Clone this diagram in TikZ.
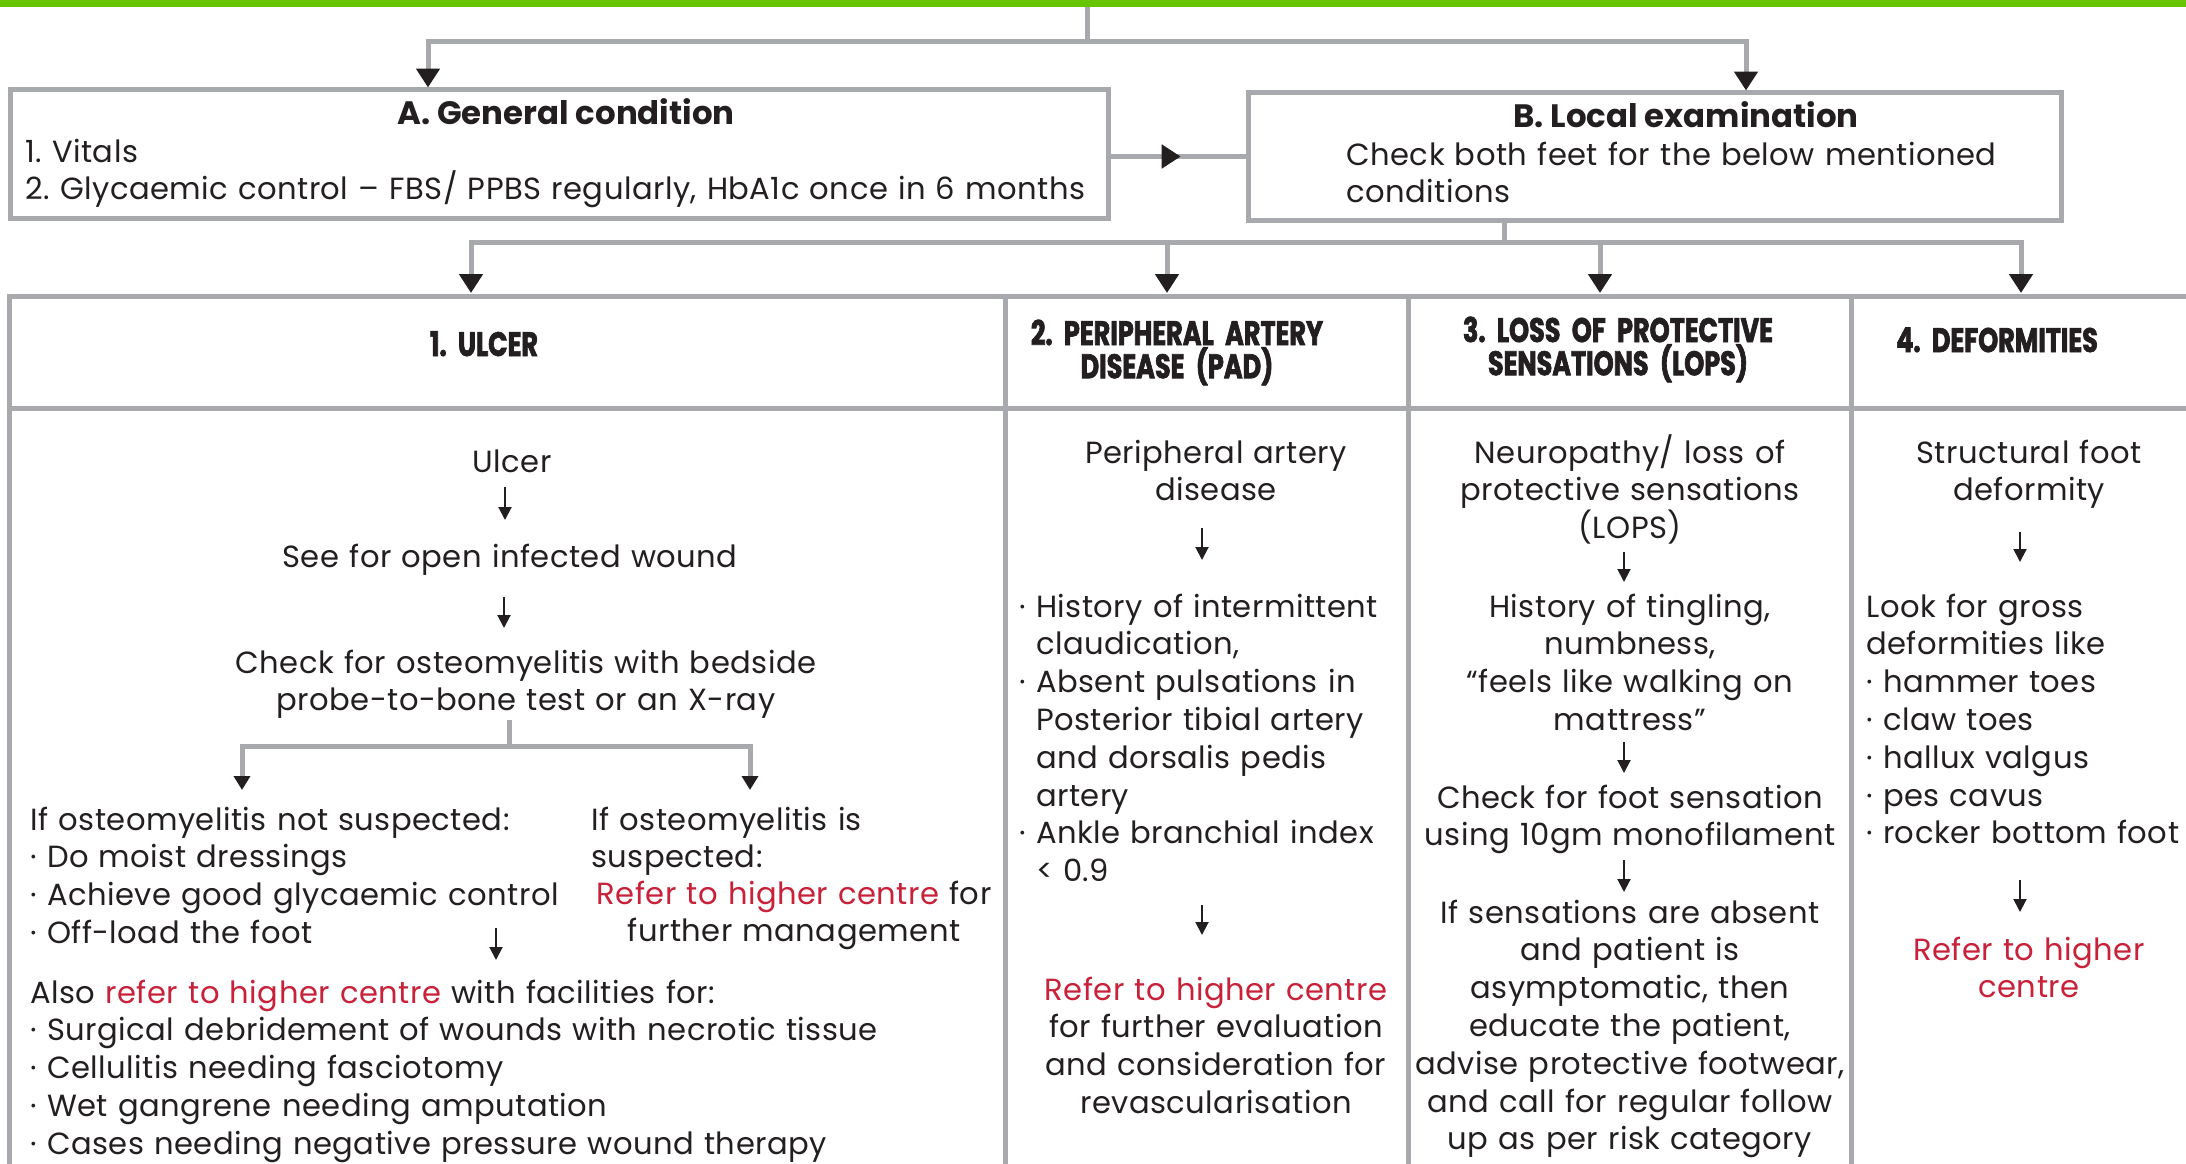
\documentclass[tikz,border=0pt]{standalone}
\usepackage{fontspec}
\setmainfont{Poppins}[Numbers=Proportional,LetterSpace=1.5]
\newfontfamily\ttlfont{Poppins}[Numbers=Proportional]
\newfontfamily\hdfont{Poppins}[Numbers=Proportional,FakeStretch=0.75,BoldFeatures={FakeBold=2}]
\usetikzlibrary{arrows.meta,decorations.markings}
\definecolor{lgray}{HTML}{A7A9AC}
\definecolor{lgreen}{HTML}{66C500}
\definecolor{rred}{HTML}{C8213A}
\definecolor{txt}{HTML}{231F20}
\frenchspacing
\newcommand\rd[1]{\textcolor{rred}{#1}}
\newcommand\bsp{\phantom{· }}
\tikzset{
  gl/.style={draw=lgray, line width=2.5pt},
  boxn/.style={draw=lgray, line width=2.5pt, inner sep=0pt, minimum width=#1},
  bigarrow/.style={gl, -{Triangle[width=11.5pt,length=9.5pt,color=txt]}},
  medarrow/.style={gl, -{Triangle[width=8pt,length=7pt,color=txt]}},
  thinarrow/.style={draw=txt, line width=1pt, -{Triangle[width=6.5pt,length=6.5pt]}},
  tc/.style={anchor=base, align=center, text width=400pt, inner sep=0pt, text=txt,
    font=\frenchspacing\fontsize{15.3}{18.9}\selectfont},
  tl/.style={anchor=base west, align=left, text width=600pt, inner sep=0pt, text=txt,
    font=\frenchspacing\fontsize{15.3}{18.9}\selectfont},
  ttl/.style={anchor=base, inner sep=0pt, text=txt, font=\frenchspacing\ttlfont\fontsize{16.2}{18.9}\selectfont\bfseries},
  hd/.style={anchor=base, align=center, text width=300pt, inner sep=0pt, text=txt,
    font=\frenchspacing\hdfont\bfseries\fontsize{17}{16.6}\selectfont},
}
\newcommand\thinarr[4]{\coordinate (#1s) at (#2,#3); \coordinate (#1e) at (#2,#4); \draw[thinarrow] (#1s) -- (#1e);}
\begin{document}
\begin{tikzpicture}[x=0.5pt,y=-0.5pt]
\useasboundingbox (0,0) rectangle (2186,1163);
\clip (0,0) rectangle (2186,1163);
\fill[white] (0,0) rectangle (2186,1163);
% green bar
\fill[lgreen] (0,0) rectangle (2186,7);

% boxes
\node[boxn=549pt, minimum height=64.25pt] (A) at (559,153.75) {};
\node[boxn=406.5pt, minimum height=64pt] (B) at (1654.5,156.5) {};

% table cells
\node[boxn=498.25pt, minimum height=56pt] (h1) at (507.25,352) {};
\node[boxn=201.25pt, minimum height=56pt] (h2) at (1206.75,352) {};
\node[boxn=221.5pt, minimum height=56pt] (h3) at (1629.5,352) {};
\node[boxn=224.5pt, minimum height=56pt] (h4) at (2075.5,352) {};
\node[boxn=498.25pt, minimum height=446pt] (c1) at (507.25,854) {};
\node[boxn=201.25pt, minimum height=446pt] (c2) at (1206.75,854) {};
\node[boxn=221.5pt, minimum height=446pt] (c3) at (1629.5,854) {};
\node[boxn=224.5pt, minimum height=446pt] (c4) at (2075.5,854) {};

% top connectors
\coordinate (src) at (1087.5,7);
\coordinate (j1) at (1087.5,41.5);
\coordinate (aA) at (428,87.5);
\coordinate (aB) at (1746,90.5);
\draw[gl] (src) -- (j1);
\draw[bigarrow] (j1) -| (aA);
\draw[bigarrow] (j1) -| (aB);

% A -> B
\draw[gl, postaction={decorate}, decoration={markings, mark=at position 0.52 with {\arrow{Triangle[width=11.5pt,length=9.5pt,color=txt]}}}] (A.east |- B.west) -- (B.west);

% B -> table
\coordinate (j2) at (1504,242);
\coordinate (t1) at (471,293);
\coordinate (t2) at (1167,293);
\coordinate (t3) at (1600,293);
\coordinate (t4) at (2021,293);
\draw[gl] (B.south -| j2) -- (j2);
\draw[bigarrow] (j2) -| (t1);
\draw[bigarrow] (j2) -| (t2);
\draw[bigarrow] (j2) -| (t3);
\draw[bigarrow] (j2) -| (t4);

% box texts
\node[ttl] (At) at (566,124) {A. General condition};
\node[tl] (Ab) at (25,162) {1. Vitals\\2. Glycaemic control – FBS/ PPBS regularly, HbA1c once in 6 months};
\node[ttl] (Bt) at (1686,127) {B. Local examination};
\node[tl] (Bb) at (1346,165) {Check both feet for the below mentioned\\conditions};

% headers
\node[hd] (H1) at (484,356) {1. ULCER};
\node[hd] (H2) at (1177,345) {2. PERIPHERAL ARTERY\\DISEASE (PAD)};
\node[hd] (H3) at (1618,342) {3. LOSS OF PROTECTIVE\\SENSATIONS (LOPS)};
\node[hd] (H4) at (1997,352) {4. DEFORMITIES};

% column 1
\node[tc] (u1) at (512,472) {Ulcer};
\node[tc] (u2) at (510,567) {See for open infected wound};
\node[tc] (u3) at (526,673) {Check for osteomyelitis with bedside\\probe-to-bone test or an X-ray};
\node[tl] (u4) at (30,830) {If osteomyelitis not suspected:\\· Do moist dressings\\· Achieve good glycaemic control\\· Off-load the foot};
\node[tl] (u5) at (591,830) {If osteomyelitis is\\suspected:};
\node[tc] (u6) at (794,904) {\rd{Refer to higher centre} for\\further management};
\node[tl] (u7) at (30,1003) {Also \rd{refer to higher centre} with facilities for:\\· Surgical debridement of wounds with necrotic tissue\\· Cellulitis needing fasciotomy\\· Wet gangrene needing amputation\\· Cases needing negative pressure wound therapy};
\thinarr{a1}{505}{487}{520}
\thinarr{a2}{504}{597}{628}
\thinarr{a3}{496}{928}{960}
\coordinate (b0) at (509,720);
\coordinate (b1) at (509,746);
\coordinate (bl) at (242,790);
\coordinate (br) at (750,790);
\draw[gl] (b0) -- (b1);
\draw[medarrow] (b1) -| (bl);
\draw[medarrow] (b1) -| (br);

% column 2
\node[tc] (p1) at (1216,463) {Peripheral artery\\disease};
\node[tl] (p2) at (1019,617) {· History of intermittent\\\bsp claudication,\\· Absent pulsations in\\\bsp Posterior tibial artery\\\bsp and dorsalis pedis\\\bsp artery\\· Ankle branchial index\\\bsp < 0.9};
\node[tc] (p3) at (1216,1000) {\rd{Refer to higher centre}\\for further evaluation\\and consideration for\\revascularisation};
\thinarr{a4}{1202}{528}{560}
\thinarr{a5}{1202}{905}{935}

% column 3
\node[tc] (l1) at (1630,463) {Neuropathy/ loss of\\protective sensations\\(LOPS)};
\node[tc] (l2) at (1630,617) {History of tingling,\\numbness,\\“feels like walking on\\mattress”};
\node[tc] (l3) at (1630,808) {Check for foot sensation\\using 10gm monofilament};
\node[tc] (l4) at (1630,923) {If sensations are absent\\and patient is\\asymptomatic, then\\educate the patient,\\advise protective footwear,\\and call for regular follow\\up as per risk category};
\thinarr{a6}{1624}{552}{582}
\thinarr{a7}{1624}{742}{773}
\thinarr{a8}{1624}{860}{892}

% column 4
\node[tc] (d1) at (2029,463) {Structural foot\\deformity};
\node[tl] (d2) at (1866,617) {Look for gross\\deformities like\\· hammer toes\\· claw toes\\· hallux valgus\\· pes cavus\\· rocker bottom foot};
\node[tc] (d3) at (2029,960) {\rd{Refer to higher}\\\rd{centre}};
\thinarr{a9}{2020}{532}{562}
\thinarr{a10}{2020}{880}{912}
\end{tikzpicture}
\end{document}
